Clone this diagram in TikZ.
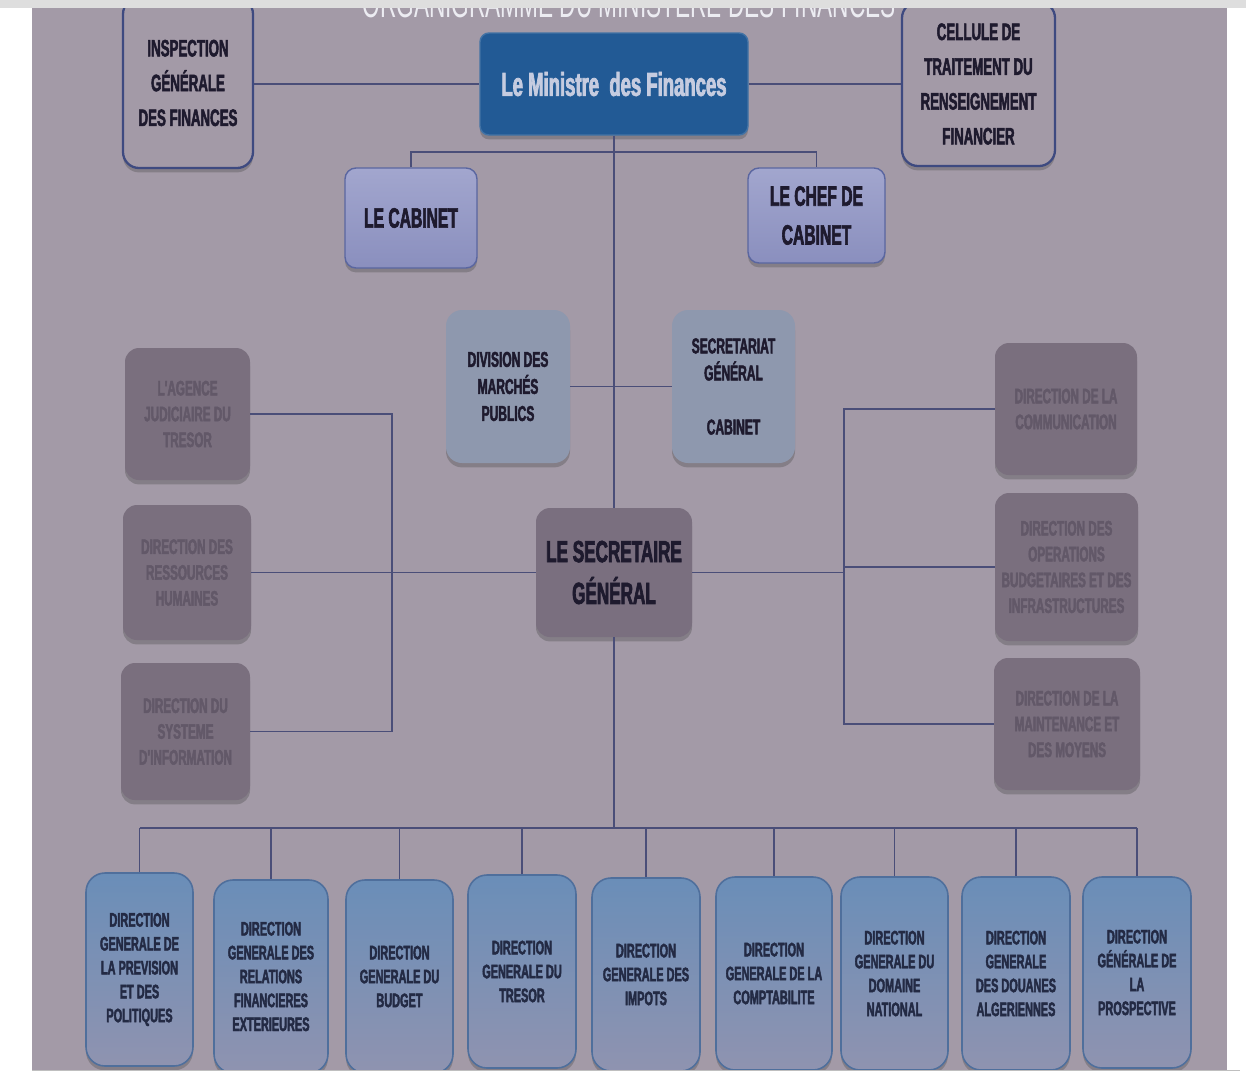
\documentclass[tikz,border=0pt]{standalone}
\usepackage{fontspec}
\setmainfont{Liberation Sans}[FakeStretch=0.56]
\newfontfamily\hv{Liberation Sans Bold}[FakeStretch=0.56, FakeBold=2.2]
\usetikzlibrary{shadows}
\definecolor{panel}{HTML}{A39AA7}
\definecolor{strip}{HTML}{DEDEDE}
\definecolor{conn}{HTML}{4A4E78}
\definecolor{greyfill}{HTML}{7A6F7E}
\definecolor{greytext}{HTML}{625868}
\definecolor{darktext}{HTML}{1E1A2E}
\definecolor{hborder}{HTML}{3E4A80}
\definecolor{minifill}{HTML}{225A95}
\definecolor{minitext}{HTML}{C6CCE0}
\definecolor{cabtop}{HTML}{A2A6CE}
\definecolor{cabbot}{HTML}{8A8FBE}
\definecolor{cabborder}{HTML}{5A66A0}
\definecolor{lfill}{HTML}{8E98AE}
\definecolor{sgfill}{HTML}{7A6F7F}
\definecolor{btop}{HTML}{6A8EB8}
\definecolor{bbot}{HTML}{8F93B0}
\definecolor{bborder}{HTML}{4F6F9C}
\definecolor{btext}{HTML}{232A44}
\definecolor{titlecol}{HTML}{ECECF2}
\tikzset{
  sz/.style 2 args={minimum width=#1*0.02cm, minimum height=#2*0.02cm},
  boxbase/.style={rectangle, align=center, inner sep=0pt,
    drop shadow={shadow xshift=0pt, shadow yshift=-2.5pt, opacity=0.35, fill=black!70}},
  hbox/.style={boxbase, fill=panel, draw=hborder, line width=1.3pt, rounded corners=0.32cm,
    text=darktext, font=\hv\fontsize{13.5}{19.8}\selectfont},
  minibox/.style={boxbase, fill=minifill, draw=minifill!85!white, line width=0.8pt, rounded corners=0.18cm,
    text=minitext, font=\hv\fontsize{18.8}{20}\selectfont},
  cbox/.style={boxbase, top color=cabtop, bottom color=cabbot, draw=cabborder, line width=0.8pt,
    rounded corners=0.22cm, text=darktext, font=\hv\fontsize{15.9}{22.1}\selectfont},
  lbox/.style={boxbase, fill=lfill, rounded corners=0.32cm, text=darktext,
    font=\hv\fontsize{12.2}{15.4}\selectfont},
  sgbox/.style={boxbase, fill=sgfill, rounded corners=0.28cm, text=darktext,
    font=\hv\fontsize{17.4}{23.8}\selectfont},
  gbox/.style={boxbase, fill=greyfill, rounded corners=0.28cm, text=greytext,
    font=\hv\fontsize{11.9}{14.7}\selectfont},
  bbox/.style={boxbase, top color=btop, bottom color=bbot, draw=bborder, line width=0.9pt,
    rounded corners=0.38cm, text=btext, font=\hv\fontsize{11.1}{13.6}\selectfont},
  link/.style={draw=conn, line width=0.9pt},
}
\begin{document}
\begin{tikzpicture}[x=0.02cm, y=-0.02cm]
\useasboundingbox (0,0) rectangle (1248,1073);
\fill[white] (0,0) rectangle (1248,1073);
\fill[panel] (32,0) rectangle (1227,1070);
\begin{scope}
\clip (32,8) rectangle (1227,1070);
\node[anchor=base, text=titlecol, font=\fontsize{23}{23}\selectfont, inner sep=0pt] (title) at (629,17) {ORGANIGRAMME DU MINISTERE DES FINANCES};
\end{scope}

% top level
\node[hbox, sz={130}{170}] (insp) at (188,83) {INSPECTION\\GÉNÉRALE\\DES FINANCES};
\node[hbox, sz={153}{164}] (cell) at (978.5,84) {CELLULE DE\\TRAITEMENT DU\\RENSEIGNEMENT\\FINANCIER};
\node[minibox, sz={268}{102}] (mini) at (614,84) {Le Ministre\ \ des Finances};

\node[cbox, sz={132}{100}] (cab) at (411,218) {LE CABINET};
\node[cbox, sz={137}{95}] (chef) at (816.5,215.5) {LE CHEF DE\\CABINET};

\node[lbox, sz={124}{153}] (div) at (508,386.5) {DIVISION DES\\MARCHÉS\\PUBLICS};
\node[lbox, sz={123}{153}] (sec) at (733.5,386.5) {SECRETARIAT\\GÉNÉRAL\\~\\CABINET};

\node[sgbox, sz={156}{129}] (sg) at (614,572.5) {LE SECRETAIRE\\GÉNÉRAL};

% left side
\node[gbox, sz={125}{132}] (agence) at (187.5,414) {L'AGENCE\\JUDICIAIRE DU\\TRESOR};
\node[gbox, sz={128}{135}] (drh) at (187,572.5) {DIRECTION DES\\RESSOURCES\\HUMAINES};
\node[gbox, sz={129}{137}] (dsi) at (185.5,731.5) {DIRECTION DU\\SYSTEME\\D'INFORMATION};

% right side
\node[gbox, sz={142}{132}] (comm) at (1066,409) {DIRECTION DE LA\\COMMUNICATION};
\node[gbox, sz={143}{148}] (dobi) at (1066.5,567) {DIRECTION DES\\OPERATIONS\\BUDGETAIRES ET DES\\INFRASTRUCTURES};
\node[gbox, sz={146}{132}] (dmm) at (1067,724) {DIRECTION DE LA\\MAINTENANCE ET\\DES MOYENS};

% bottom row
\node[bbox, sz={107}{193}] (b1) at (139.5,969.5) {DIRECTION\\GENERALE DE\\LA PREVISION\\ET DES\\POLITIQUES};
\node[bbox, sz={114}{193}] (b2) at (271,976.5) {DIRECTION\\GENERALE DES\\RELATIONS\\FINANCIERES\\EXTERIEURES};
\node[bbox, sz={107}{193}] (b3) at (399.5,976.5) {DIRECTION\\GENERALE DU\\BUDGET};
\node[bbox, sz={108}{193}] (b4) at (522,971.5) {DIRECTION\\GENERALE DU\\TRESOR};
\node[bbox, sz={108}{193}] (b5) at (646,974.5) {DIRECTION\\GENERALE DES\\IMPOTS};
\node[bbox, sz={116}{193}] (b6) at (774,973.5) {DIRECTION\\GENERALE DE LA\\COMPTABILITE};
\node[bbox, sz={107}{193}] (b7) at (894.5,973.5) {DIRECTION\\GENERALE DU\\DOMAINE\\NATIONAL};
\node[bbox, sz={108}{193}] (b8) at (1016,973.5) {DIRECTION\\GENERALE\\DES DOUANES\\ALGERIENNES};
\node[bbox, sz={108}{191}] (b9) at (1137,972.5) {DIRECTION\\GÉNÉRALE DE\\LA\\PROSPECTIVE};

% bus coordinates
\coordinate (cabbus) at (614,152);
\coordinate (lb) at (392,572.5);
\coordinate (rb) at (844,572.5);
\coordinate (bbus) at (614,828);

% connectors
\draw[link] (insp.east |- mini.west) -- (mini.west);
\draw[link] (mini.east) -- (cell.west |- mini.east);
\draw[link] (cab.north) |- (cabbus) -| (chef.north);
\draw[link] (mini.south) -- (sg.north);
\draw[link] (div.east) -- (div.east -| mini.south);
\draw[link] (sec.west) -- (sec.west -| mini.south);
\draw[link] (agence.east) -- (agence.east -| lb) -- (dsi.east -| lb) -- (dsi.east);
\draw[link] (drh.east) -- (sg.west);
\draw[link] (comm.west) -- (comm.west -| rb) -- (dmm.west -| rb) -- (dmm.west);
\draw[link] (sg.east) -- (rb);
\draw[link] (dobi.west) -- (dobi.west -| rb);
\draw[link] (sg.south) -- (bbus);
\draw[link, line width=1.3pt] (b1.north |- bbus) -- (b9.north |- bbus);
\foreach \b in {b1,b2,b3,b4,b5,b6,b7,b8,b9} {\draw[link] (\b.north) -- (\b.north |- bbus);}

% frame overlays
\fill[strip] (0,0) rectangle (1246,8);
\fill[white] (0,1070) rectangle (1248,1080);
\draw[black!25, line width=0.6pt] (32,1070.5) -- (1240,1070.5);
\end{tikzpicture}
\end{document}
